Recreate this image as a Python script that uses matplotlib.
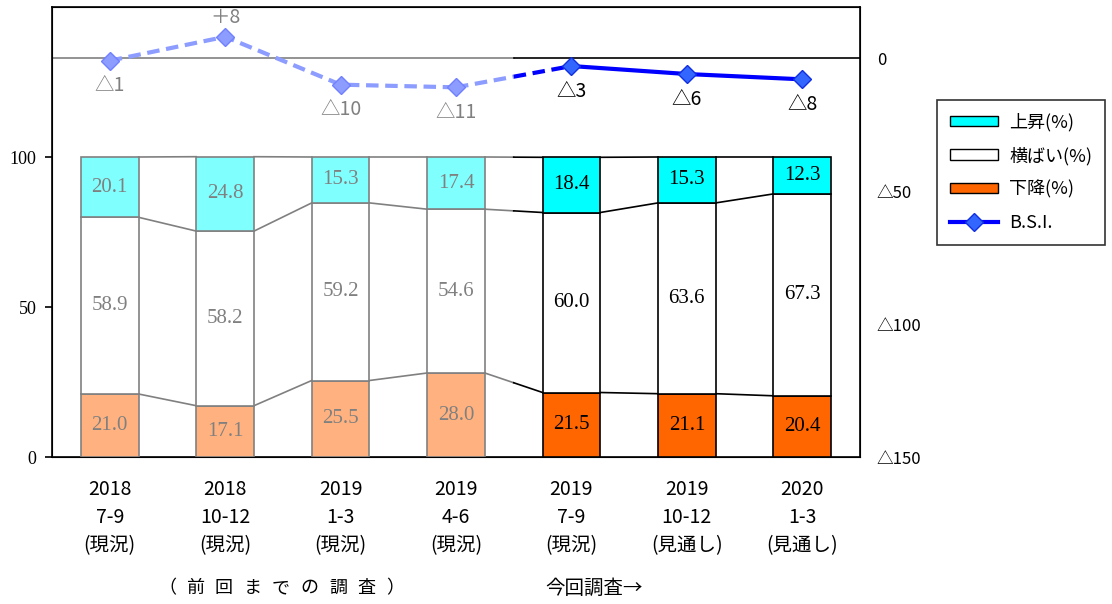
import numpy as np
import matplotlib
matplotlib.use('Agg')
import matplotlib.pyplot as plt
from matplotlib.patches import Patch
from matplotlib.lines import Line2D

plt.rcParams['font.family'] = ['Noto Sans CJK JP', 'DejaVu Sans']

# --- data ---
periods = ['2018\n7-9\n(現況)', '2018\n10-12\n(現況)', '2019\n1-3\n(現況)', '2019\n4-6\n(現況)',
           '2019\n7-9\n(現況)', '2019\n10-12\n(見通し)', '2020\n1-3\n(見通し)']
up = [20.1, 24.8, 15.3, 17.4, 18.4, 15.3, 12.3]
flat = [58.9, 58.2, 59.2, 54.6, 60.0, 63.6, 67.3]
down = [21.0, 17.1, 25.5, 28.0, 21.5, 21.1, 20.4]
bsi = [-1, 8, -10, -11, -3, -6, -8]
bsi_labels = ['△1', '＋8', '△10', '△11', '△3', '△6', '△8']
n_prev = 4  # bars from earlier surveys

x = np.arange(len(periods))
w = 0.5
up = np.array(up); flat = np.array(flat); down = np.array(down)

fig = plt.figure(figsize=(11.12, 6.04), dpi=100)
ax = fig.add_axes([52/1112, 147/604, 808/1112, 450/604])
ax2 = ax.twinx()

for i in x:
    old = i < n_prev
    ec = '#808080' if old else 'black'
    c_up = '#80ffff' if old else '#00ffff'
    c_dn = '#ffb27f' if old else '#ff6600'
    tc = '#808080' if old else 'black'
    ax.bar(i, down[i], w, color=c_dn, edgecolor=ec, lw=1.2, zorder=3)
    ax.bar(i, flat[i], w, bottom=down[i], color='white', edgecolor=ec, lw=1.2, zorder=3)
    ax.bar(i, up[i], w, bottom=down[i] + flat[i], color=c_up, edgecolor=ec, lw=1.2, zorder=3)
    for val, mid in [(down[i], down[i] / 2), (flat[i], down[i] + flat[i] / 2),
                     (up[i], down[i] + flat[i] + up[i] / 2)]:
        ax.text(i, mid, f'{val:.1f}', ha='center', va='center', color=tc,
                family='Liberation Serif', fontsize=15, zorder=4)

# series lines between bars
levels = [down, down + flat, down + flat + up]
for i in range(len(x) - 1):
    x0, x1 = i + w / 2, i + 1 - w / 2
    for lv in levels:
        if i < n_prev - 1:
            ax.plot([x0, x1], [lv[i], lv[i + 1]], color='#808080', lw=1.2, zorder=2)
        elif i >= n_prev:
            ax.plot([x0, x1], [lv[i], lv[i + 1]], color='black', lw=1.2, zorder=2)
        else:
            xm = (x0 + x1) / 2
            ym = (lv[i] + lv[i + 1]) / 2
            ax.plot([x0, xm], [lv[i], ym], color='#808080', lw=1.2, zorder=2)
            ax.plot([xm, x1], [ym, lv[i + 1]], color='black', lw=1.2, zorder=2)

ax.set_xlim(-0.5, len(x) - 0.5)
ax.set_ylim(0, 150)
ax.set_yticks([0, 50, 100])
ax.set_yticklabels(['0', '50', '100'], family='Liberation Serif', fontsize=13)
ax.tick_params(axis='y', direction='out', length=5, width=1.2, pad=6)
ax.set_xticks(x)
ax.set_xticklabels(periods, fontsize=14, linespacing=1.44)
ax.tick_params(axis='x', length=0, pad=16)
for s in ax.spines.values():
    s.set_linewidth(1.2)

# B.S.I. line on right axis
ax2.set_ylim(-150, 19.2)
ax2.set_yticks([0, -50, -100, -150])
ax2.set_yticklabels(['0', '△50', '△100', '△150'], fontsize=12)
ax2.tick_params(axis='y', length=0, pad=12)
for lbl in ax2.get_yticklabels():
    lbl.set_horizontalalignment('left')
ax2.axhline(0, xmin=0, xmax=n_prev / len(x), color='#808080', lw=1.2, zorder=1)
ax2.axhline(0, xmin=n_prev / len(x), xmax=1, color='black', lw=1.2, zorder=1)

ax2.plot(x[:n_prev], bsi[:n_prev], color='#8c9cff', lw=3, ls=(0, (3, 1.6)),
         marker='D', ms=9, mfc='#8c9cff', mec='#7080ff', zorder=5)
xm = (x[n_prev - 1] + x[n_prev]) / 2
ym = (bsi[n_prev - 1] + bsi[n_prev]) / 2
ax2.plot([x[n_prev - 1], xm], [bsi[n_prev - 1], ym], color='#8c9cff', lw=3, ls=(0, (3, 1.6)), zorder=4)
ax2.plot([xm, x[n_prev]], [ym, bsi[n_prev]], color='#0000ff', lw=3, ls=(0, (3, 1.6)), zorder=4)
ax2.plot(x[n_prev:], bsi[n_prev:], color='#0000ff', lw=3,
         marker='D', ms=9, mfc='#3366ff', mec='#1030e0', zorder=5)

for i in x:
    tc = '#808080' if i < n_prev else 'black'
    dy = 14 if bsi[i] > 0 else -18
    ax2.annotate(bsi_labels[i], (i, bsi[i]), xytext=(0, dy), textcoords='offset points',
                 ha='center', va='center', color=tc, fontsize=14)

# legend
handles = [Patch(facecolor='#00ffff', edgecolor='black', label='上昇(%)'),
           Patch(facecolor='white', edgecolor='black', label='横ばい(%)'),
           Patch(facecolor='#ff6600', edgecolor='black', label='下降(%)'),
           Line2D([], [], color='#0000ff', lw=3, marker='D', ms=9, mfc='#3366ff', mec='#1030e0', label='B.S.I.')]
leg = fig.legend(handles=handles, loc='upper left', bbox_to_anchor=(937/1112, 1 - 100/604),
                 frameon=True, fancybox=False, edgecolor='black', fontsize=13,
                 handlelength=2.7, handleheight=0.5, handletextpad=0.6,
                 labelspacing=0.85, borderpad=0.7, borderaxespad=0)
leg.get_frame().set_linewidth(1.2)

prev_chars = ['（', '前', '回', 'ま', 'で', 'の', '調', '査', '）']
for k, ch in enumerate(prev_chars):
    fig.text((167 + 28.5 * k) / 1112, 1 - 588/604, ch, fontsize=13, va='center', ha='center')
fig.text(545/1112, 1 - 588/604, '今回調査→', fontsize=14, va='center')

fig.savefig('out.png', dpi=100)
